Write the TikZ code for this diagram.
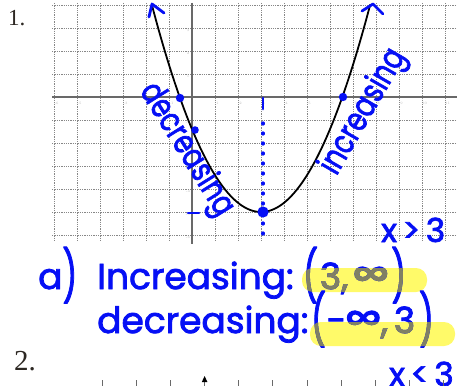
\documentclass[tikz,border=0pt]{standalone}
\usepackage{fontspec}
\newfontfamily\hand[FakeBold=2.2]{Poppins}
\newfontfamily\numfont{Liberation Serif}
\definecolor{pen}{RGB}{5,15,245}
\definecolor{hl}{RGB}{255,250,105}
\definecolor{hltext}{RGB}{128,128,100}
\definecolor{gridc}{RGB}{135,135,135}
\definecolor{axisc}{RGB}{105,105,105}
\definecolor{numc}{RGB}{45,40,35}
\newcommand{\tallpar}[1]{\raisebox{-0.14em}{\scalebox{0.9}[1.4]{#1}}}
\newcommand{\biginf}{\raisebox{-0.03em}{\scalebox{1.4}[1.3]{∞}}}
\tikzset{
  gridline/.style={gridc, line width=0.8pt, dash pattern=on 1.3pt off 1pt},
  axisline/.style={axisc, line width=1.5pt},
  curveline/.style={black, line width=1.8pt},
  penline/.style={pen, line width=2.8pt, line cap=round, line join=round},
  ticklab/.style={gray!55, font=\fontsize{3.5}{4}\selectfont, inner sep=0pt},
  handtext/.style={pen, inner sep=0pt, font=\hand\fontsize{36}{36}\selectfont},
  hltxt/.style={hltext, inner sep=0pt, font=\hand\fontsize{36}{36}\selectfont},
  smallhand/.style={pen, inner sep=0pt, font=\hand\fontsize{33}{33}\selectfont},
  numlabel/.style={numc, inner sep=0pt, anchor=base west}
}
\begin{document}
\begin{tikzpicture}[x=1pt,y=-1pt]
\useasboundingbox (0,0) rectangle (457,385);
\fill[white] (0,0) rectangle (457,385);
% grid
\foreach \k in {-6,...,11} \draw[gridline] ({192+23*\k},3) -- ({192+23*\k},240);
\foreach \j in {-4,...,6} \draw[gridline] (52,{97+23*\j}) -- (457,{97+23*\j});
\draw[axisline] (52,97) -- (457,97);
\draw[axisline] (192,3) -- (192,244);
\foreach \k in {-6,-5,-4,-3,-2,-1,1,2,3,4,5,6,7,8,9,10,11}
  \node[ticklab] (xl\k) at ({192+23*\k+2.5},103) {\k};
\foreach \j in {-6,-5,-4,-3,-2,-1,1,2,3}
  \node[ticklab] (yl\j) at (188,{97-23*\j+2}) {\j};
% parabola
\draw[curveline] plot[domain=-1.75:7.75, samples=90, smooth] ({192+23*\x},{212-9.2*(\x-3)^2});
% blue arrow tips
\draw[penline] (149,17) -- (152,4) -- (164,13);
\draw[penline] (362,11) -- (373,4) -- (383,14);
% dots
\fill[pen] (180,98) circle (4.2);
\fill[pen] (195,130) circle (3.8);
\fill[pen] (343,97) circle (4.2);
\fill[pen] (263,212) circle (5.6);
% dotted symmetry line
\draw[penline] (263,98) -- (263,109);
\draw[pen, line width=3.2pt, line cap=round, dash pattern=on 1pt off 9pt] (263,123) -- (263,240);
\draw[penline] (188,213) -- (199,213);
% rotated labels
\node[handtext, font=\hand\fontsize{34}{34}\selectfont, rotate=-58, xscale=0.78] (dec) at (186,150) {decreasing};
\node[handtext, font=\hand\fontsize{34}{34}\selectfont, rotate=60, xscale=0.78] (inc) at (364,112) {increasing};
% highlights
\fill[hl, rounded corners=11pt] (302,268) rectangle (427,292);
\fill[hl, rounded corners=11pt] (310,322) rectangle (455,346);
% answer text
\node[handtext, anchor=base west] (a) at (38,289) {a\tallpar{)}};
\node[handtext, anchor=base west] (incw) at (97,289) {Increasing:};
\node[handtext, anchor=base west] (inti) at (303,289) {\tallpar{(}\hspace{2pt}3,\hspace{5pt}\biginf\hspace{3pt}\tallpar{)}};
\begin{scope}
  \clip[rounded corners=11pt] (302,268) rectangle (427,292);
  \node[hltxt, anchor=base west] (intig) at (303,289) {\tallpar{(}\hspace{2pt}3,\hspace{5pt}\biginf\hspace{3pt}\tallpar{)}};
\end{scope}
\node[handtext, anchor=base west] (decw) at (97,333) {decreasing:};
\node[handtext, anchor=base west] (intd) at (311,333) {\tallpar{(}−\biginf,\hspace{6pt}3\hspace{4pt}\tallpar{)}};
\begin{scope}
  \clip[rounded corners=11pt] (310,322) rectangle (455,346);
  \node[hltxt, anchor=base west] (intdg) at (311,333) {\tallpar{(}−\biginf,\hspace{6pt}3\hspace{4pt}\tallpar{)}};
\end{scope}
\node[smallhand, anchor=base west] (xg) at (381,242) {x\,>\,3};
\node[smallhand, anchor=base west] (xs) at (389,386) {x\,<\,3};
% problem numbers
\node[numlabel, font=\numfont\fontsize{23}{23}\selectfont] (n1) at (8,26) {1.};
\node[numlabel, font=\numfont\fontsize{29}{29}\selectfont] (n2) at (14,370) {2.};
% bottom axis of problem 2
\foreach \i in {0,...,10} \draw[axisc, line width=0.8pt] ({102.3+34.1*\i},380) -- ({102.3+34.1*\i},386);
\fill[black] (204.6,376) -- (201.8,382) -- (207.4,382) -- cycle;
\end{tikzpicture}
\end{document}
